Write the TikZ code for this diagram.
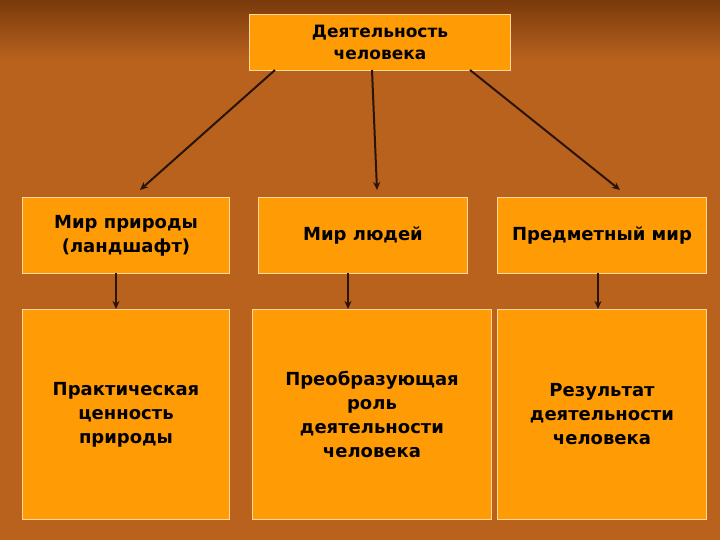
\documentclass[tikz,border=0pt]{standalone}
\usepackage{fontspec}
\setmainfont{DejaVu Sans}
\usetikzlibrary{arrows.meta}
\definecolor{bg}{HTML}{B8621E}
\definecolor{bgdark}{HTML}{7A3A0C}
\definecolor{boxfill}{HTML}{FF9B05}
\definecolor{boxline}{HTML}{FFD89A}
\definecolor{arr}{HTML}{2A1408}
\tikzset{
 box/.style={draw=boxline,line width=1pt,fill=boxfill,align=center,font=\bfseries\fontsize{18}{24}\selectfont,inner sep=0pt,anchor=north west},
 conn/.style={draw=arr,line width=2pt,-{Stealth[length=8pt,width=7pt]}}
}
\begin{document}
\begin{tikzpicture}[x=1pt,y=-1pt]
\useasboundingbox (0,0) rectangle (720,540);
\shade[top color=bgdark,bottom color=bg] (0,0) rectangle (720,60);
\fill[bg] (0,60) rectangle (720,540);
\node[box,minimum width=261pt,minimum height=56pt,font=\bfseries\fontsize{17}{22}\selectfont] (top) at (249,14) {Деятельность\\человека};
\node[box,minimum width=207pt,minimum height=76pt] (a1) at (22,197) {Мир природы\\(ландшафт)};
\node[box,minimum width=209pt,minimum height=76pt] (a2) at (258,197) {Мир людей};
\node[box,minimum width=209pt,minimum height=76pt] (a3) at (497,197) {Предметный мир};
\node[box,minimum width=207pt,minimum height=210pt] (b1) at (22,309) {Практическая\\ценность\\природы};
\node[box,minimum width=239pt,minimum height=210pt] (b2) at (252,309) {Преобразующая\\роль\\деятельности\\человека};
\node[box,minimum width=209pt,minimum height=210pt] (b3) at (497,309) {Результат\\деятельности\\человека};
\coordinate (t1) at (275,70); \coordinate (e1) at (140,190);
\coordinate (t2) at (372,70); \coordinate (e2) at (377,190);
\coordinate (t3) at (470,70); \coordinate (e3) at (620,190);
\coordinate (d1) at (116,273); \coordinate (f1) at (116,309);
\coordinate (d2) at (348,273); \coordinate (f2) at (348,309);
\coordinate (d3) at (598,273); \coordinate (f3) at (598,309);
\draw[conn] (t1) -- (e1);
\draw[conn] (t2) -- (e2);
\draw[conn] (t3) -- (e3);
\draw[conn] (d1) -- (f1);
\draw[conn] (d2) -- (f2);
\draw[conn] (d3) -- (f3);
\end{tikzpicture}
\end{document}
